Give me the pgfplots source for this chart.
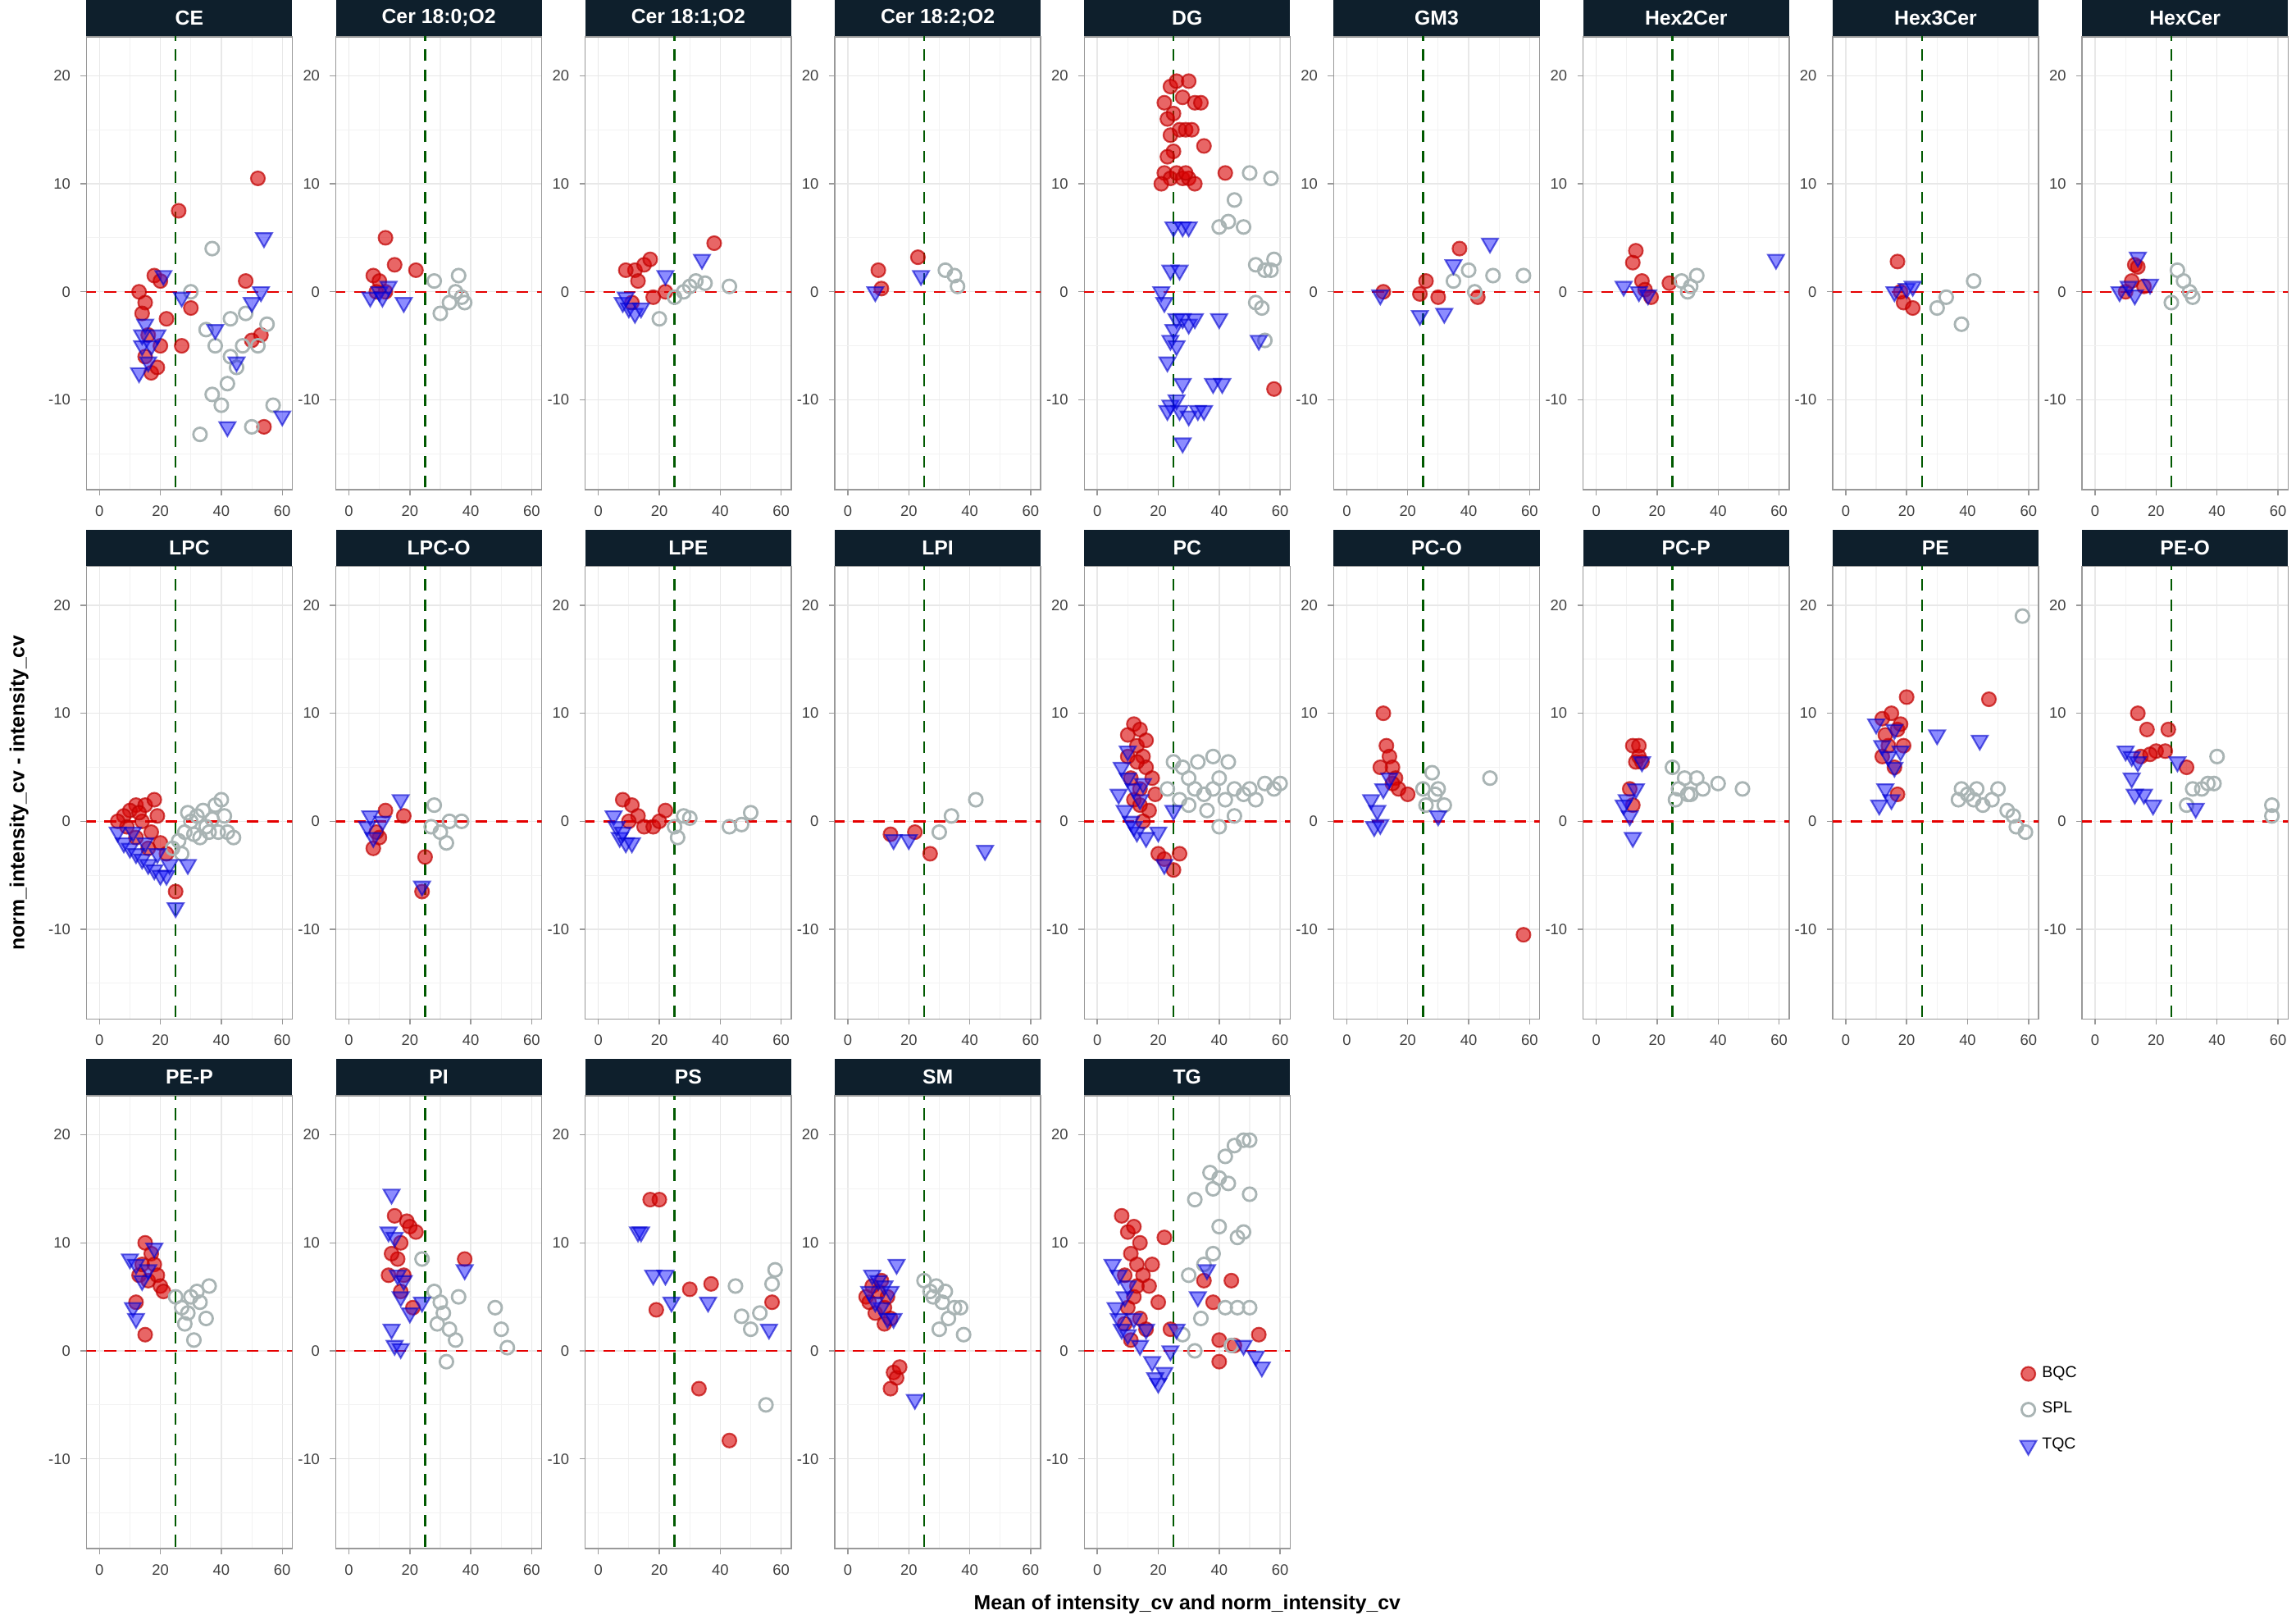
\documentclass[border=0pt]{standalone}
\usepackage{pgfplots}
\pgfplotsset{compat=1.18}
\usepgfplotslibrary{groupplots}
\usepackage{fontspec}
\setmainfont{Liberation Sans}
\definecolor{strip}{HTML}{0E1F2C}
\definecolor{splc}{HTML}{A9B4B4}
\pgfplotsset{
 every axis title shift=0pt,
 bqc/.style={only marks, mark=*, mark size=2.4pt, mark options={fill=red!85!black, draw=red!75!black, fill opacity=0.6, draw opacity=0.7, line width=0.6pt}},
 spl/.style={only marks, mark=o, mark size=2.3pt, mark options={draw=splc, line width=0.8pt}},
 tqc/.style={only marks, mark=triangle*, mark size=3.2pt, mark options={rotate=180, fill=blue!90!white, draw=blue!80!black, fill opacity=0.5, draw opacity=0.6, line width=0.6pt}},
 refh/.style={red!90!black, dashed, line width=0.7pt, forget plot, dash pattern=on 4pt off 3pt},
 refv/.style={green!35!black, dashed, line width=0.7pt, forget plot, dash pattern=on 4pt off 3pt},
}
\newcommand\panel[5][]{\nextgroupplot[title={#2},#1]
\addplot[bqc] coordinates {#3};
\addplot[spl] coordinates {#4};
\addplot[tqc] coordinates {#5};
\addplot[refh] coordinates {(-5,0)(65,0)};
\addplot[refv] coordinates {(25,-20)(25,25)};}
\begin{document}
\begin{tikzpicture}
\begin{groupplot}[group style={group size=9 by 3, horizontal sep=15pt, vertical sep=26.5pt},
 width=71pt, height=156pt, scale only axis,
 xmin=-4.3, xmax=63.3, ymin=-18.3, ymax=23.6,
 xtick={0,20,40,60}, minor xtick={10,30,50}, ytick={-10,0,10,20}, minor ytick={-15,-5,5,15},
 grid=both, major grid style={gray!18, line width=0.4pt}, minor grid style={gray!10, line width=0.3pt},
 axis line style={gray!80}, tick style={gray!80, line width=0.4pt}, major tick length=2pt, minor tick length=0pt,
 tick align=outside, tick pos=left,
 ticklabel style={font=\fontsize{5.2}{6}\selectfont, text=black!75}, /pgf/number format/assume math mode=true,
 title style={at={(0.5,1)}, anchor=south, fill=strip, text=white, font=\bfseries\fontsize{7}{8}\selectfont, minimum width=71pt, minimum height=12.5pt, inner sep=0pt, yshift=0pt},
 label style={font=\bfseries\fontsize{7}{8}\selectfont},
]
\panel{CE}{(26,7.5)(52,10.5)(54,-12.5)(15,-1)(18,1.5)(14,-2)(16,-4)(20,-5)(22,-2.5)(17,-7.5)(30,-1.5)(27,-5)(50,-4.5)(53,-4)(48,1)(15,-6)(19,-7)(13,0)(20,1)}{(37,4)(33,-13.2)(37,-9.5)(40,-10.5)(42,-8.5)(45,-7)(47,-5)(50,-12.5)(55,-3)(57,-10.5)(38,-5)(43,-6)(35,-3.5)(48,-2)(43,-2.5)(30,0)(52,-5)}{(54,5)(21,1.5)(15,-3)(14,-5)(13,-7.5)(17,-5)(19,-4)(38,-3.5)(42,-12.5)(45,-6.5)(50,-1)(53,0)(60,-11.5)(27,-0.5)(16,-6.5)(14,-4)}
\panel{Cer 18:0;O2}{(12,5)(15,2.5)(22,2)(8,1.5)(10,1)(9,0)(12,0)}{(28,1)(30,-2)(33,-1)(36,1.5)(37,-0.5)(38,-1)(35,0)}{(7,-0.5)(10,0)(13,0.5)(18,-1)(11,-0.5)}
\panel{Cer 18:1;O2}{(38,4.5)(12,2)(15,2.5)(17,3)(9,2)(18,-0.5)(22,0)(13,1)(11,-1)}{(43,0.5)(28,0)(30,0.5)(32,1)(35,0.8)(20,-2.5)(25,-0.5)}{(34,3)(22,1.5)(8,-1)(10,-1.5)(12,-2)(9,-0.5)(14,-1.5)}
\panel{Cer 18:2;O2}{(10,2)(11,0.3)(23,3.2)}{(32,2)(35,1.5)(36,0.5)}{(9,0)(24,1.5)}
\panel{DG}{(22,17.5)(24,19)(26,19.5)(28,18)(30,19.5)(32,17.5)(34,17.5)(23,16)(25,16.5)(27,15)(29,15)(31,15)(22,11)(24,10.5)(26,11)(28,10.5)(30,10.5)(32,10)(21,10)(25,13)(23,12.5)(35,13.5)(42,11)(58,-9)(29,11)(24,14.5)}{(50,11)(57,10.5)(45,8.5)(48,6)(52,2.5)(55,2)(57,2)(58,3)(52,-1)(54,-1.5)(55,-4.5)(40,6)(43,6.5)}{(25,6)(28,6)(30,6)(24,2)(27,2)(21,0)(22,-1)(26,-2.5)(28,-2.5)(30,-3)(32,-2.5)(25,-3.5)(24,-4.5)(26,-5)(23,-6.5)(28,-8.5)(38,-8.5)(41,-8.5)(24,-10.5)(27,-11)(30,-11.5)(33,-11)(28,-14)(35,-11)(40,-2.5)(53,-4.5)(23,-11)(26,-10)}
\panel{GM3}{(12,0)(24,-0.2)(26,1)(37,4)(43,-0.5)(30,-0.5)}{(35,1)(48,1.5)(58,1.5)(40,2)(42,0)}{(11,-0.3)(24,-2.2)(32,-2)(35,2.5)(47,4.5)}
\panel{Hex2Cer}{(13,3.8)(12,2.7)(15,1)(18,-0.5)(24,0.8)(16,0.2)}{(28,1)(31,0.5)(33,1.5)(30,0)}{(59,3)(9,0.5)(14,0)(17,-0.3)}
\panel{Hex3Cer}{(17,2.8)(19,-1)(22,-1.5)(18,0)}{(30,-1.5)(33,-0.5)(38,-3)(42,1)}{(16,0)(20,0.3)(22,0.5)}
\panel{HexCer}{(13,2.5)(14,2.3)(12,1)(16,0.5)(10,0)}{(27,2)(29,1)(31,0)(25,-1)(32,-0.5)}{(14,3.2)(8,0)(11,0.5)(18,0.7)(13,-0.3)}
\panel[ylabel={norm\_intensity\_cv - intensity\_cv}]{LPC}{(25,-6.5)(12,1.5)(15,1.5)(18,2)(10,1)(8,0.5)(14,0)(17,-1)(20,-2)(22,-3)(16,-2.5)(12,-1.5)(9,-0.5)(19,0.5)(6,0)(13,0.8)}{(28,-1)(30,0)(32,0.5)(34,1)(36,-1)(38,1.5)(40,2)(42,-1)(44,-1.5)(35,-0.5)(33,-1.5)(31,-1.2)(29,0.8)(26,-1.8)(37,0.2)(39,-1)(41,0.5)(24,-2.5)(27,-3)}{(8,-2)(10,-2.5)(12,-3)(14,-3.5)(16,-4)(18,-4.5)(20,-5)(22,-5)(25,-8)(29,-4)(6,-1)(11,-1)(15,-2)(19,-3)(23,-4)}
\panel{LPC-O}{(8,-2.5)(10,-1.5)(12,1)(18,0.5)(25,-3.3)(9,-1)(24,-6.5)}{(28,1.5)(30,-1)(32,-2)(33,0)(37,0)(27,-0.5)}{(17,2)(6,-0.5)(8,-1.5)(24,-6)(11,0)(7,0.5)}
\panel{LPE}{(8,2)(11,1.5)(13,0.5)(15,-0.5)(18,-0.5)(20,0)(22,1)(10,0)}{(25,-0.5)(28,0.5)(30,0.3)(43,-0.5)(47,-0.3)(50,0.8)(26,-1.5)}{(5,0.5)(7,-1.5)(9,-2)(11,-2)(6,-0.5)(8,-1)}
\panel{LPI}{(14,-1.2)(22,-1)(27,-3)}{(34,0.5)(42,2)(30,-1)}{(15,-1.7)(20,-1.7)(45,-2.7)}
\panel{PC}{(12,9)(14,8.5)(10,8)(13,7)(15,6)(16,5)(11,4)(14,3)(12,2)(17,1)(15,0)(20,-3)(22,-3.5)(25,-4.5)(27,-3)(13,5.5)(10,6)(18,4)(19,2.5)(16,7.5)(14,1.5)}{(25,5.5)(28,5)(30,4)(32,3)(35,2.5)(38,3)(40,4)(42,2)(45,3)(48,2.5)(50,3)(55,3.5)(58,3)(60,3.5)(27,2)(33,5.5)(38,6)(43,5.5)(36,1)(40,-0.5)(45,0.5)(30,1.5)(23,3)(52,2)}{(8,5)(10,4)(12,3)(14,2)(9,1)(11,0)(13,-1)(16,-1.5)(20,-1)(22,-4)(25,1)(10,6.5)(7,2.5)(12,-0.5)(15,3.5)}
\panel{PC-O}{(12,10)(13,7)(14,6)(15,5)(16,4)(17,3)(20,2.5)(58,-10.5)(11,5)(15,3.5)}{(25,3)(28,4.5)(30,3)(32,1.5)(47,4)(26,1.5)(29,2.5)}{(8,2)(10,1)(12,3)(9,-0.5)(11,-0.3)(30,0.5)(14,4)}
\panel{PC-P}{(12,7)(14,7)(13,5.5)(15,5.5)(11,3)(12,1.5)(14,6)}{(25,5)(27,3)(29,4)(31,2.5)(33,4)(35,3)(40,3.5)(48,3)(26,2)(30,2.5)}{(10,2)(11,0.5)(12,-1.5)(13,3)(15,5.5)(9,1.5)}
\panel{PE}{(12,9.5)(15,10)(17,8.5)(18,9)(20,11.5)(14,7)(16,5)(19,7)(47,11.3)(12,6)(17,2.5)(13,8)}{(58,19)(38,3)(40,2.5)(42,2)(45,1.5)(48,2)(50,3)(53,1)(56,-0.5)(59,-1)(43,3)(37,2)(55,0.5)}{(12,7)(14,6)(16,5)(13,3)(15,2)(11,1.5)(30,8)(44,7.5)(16,8.5)(18,6.5)(10,9)}
\panel{PE-O}{(14,10)(17,8.5)(20,6.5)(23,6.5)(24,8.5)(30,5)(15,6)(18,6.2)}{(40,6)(37,3.5)(39,3.5)(35,3)(58,1.5)(58,0.5)(30,1.5)(32,3)}{(10,6.5)(12,6)(14,5.5)(12,4)(13,2.5)(16,2.5)(19,1.5)(27,5.5)(33,1.2)}
\panel{PE-P}{(15,10)(17,9)(13,7)(16,6.5)(18,8)(19,7)(20,6)(21,5.5)(15,1.5)(12,4.5)(14,8)}{(25,5)(27,4)(29,3.5)(30,5)(32,5.5)(33,4.5)(35,3)(36,6)(31,1)(28,2.5)}{(10,8.5)(12,8)(14,6.5)(11,4)(12,3)(18,9.5)(16,7.5)}
\panel{PI}{(15,12.5)(17,10)(19,12)(20,11.5)(22,11)(16,8.5)(18,7)(14,9)(38,8.5)(21,4)(13,7)(17,5.5)}{(24,8.5)(28,5.5)(30,4.5)(31,3.5)(33,2)(35,1)(32,-1)(48,4)(50,2)(52,0.3)(36,5)(29,2.5)}{(14,14.5)(13,11)(15,10.5)(16,7)(17,5)(18,6.5)(24,4.5)(14,2)(15,0.5)(17,0.2)(38,7.5)(20,3.5)}
\panel{PS}{(17,14)(20,14)(19,3.8)(30,5.7)(37,6.2)(33,-3.5)(43,-8.3)(57,4.5)}{(45,6)(50,2)(53,3.5)(55,-5)(58,7.5)(57,6.2)(47,3.2)}{(13,11)(14,11)(18,7)(22,7)(24,4.5)(36,4.5)(56,2)}
\panel{SM}{(6,5)(8,6)(10,5.5)(12,4)(14,3)(9,3.5)(11,6.5)(13,5)(15,-2)(16,-2.5)(14,-3.5)(17,-1.5)(7,4.5)(12,2.5)}{(25,6.5)(27,5.5)(29,6)(31,4.5)(33,3)(35,4)(37,4)(38,1.5)(30,2)(28,5)(32,5.5)}{(8,7)(10,6.5)(12,6)(14,5.5)(16,8)(11,4)(13,3)(15,3)(9,4.5)(22,-4.5)(7,5.5)}
\panel[xlabel={Mean of intensity\_cv and norm\_intensity\_cv}, legend style={at={(4.5,0.43)}, anchor=north west, draw=none, fill=none, font=\fontsize{5.5}{6}\selectfont, row sep=3pt}, legend cell align=left]{TG}{(8,12.5)(10,11)(12,11.5)(14,10)(11,9)(13,8)(9,7)(15,7)(17,6)(12,5)(10,4)(14,3)(16,2)(20,4.5)(22,10.5)(18,8)(24,2)(35,6.5)(44,6.5)(38,4.5)(40,1)(40,-1)(45,0.5)(53,1.5)(11,1)(9,2.5)(13,6)}{(32,14)(37,16.5)(40,16)(42,18)(45,19)(48,19.5)(50,19.5)(38,15)(43,15.5)(50,14.5)(48,11)(40,11.5)(46,10.5)(35,8)(30,7)(38,9)(42,4)(46,4)(50,4)(34,3)(28,1.5)(32,0)(44,0.5)}{(5,8)(7,7)(9,5)(6,4)(8,2)(10,1.5)(12,3)(14,0.5)(16,2)(18,-1)(20,-3)(22,-2)(24,0)(26,2)(36,7.5)(33,5)(48,0.5)(52,-0.5)(54,-1.5)(19,-2.5)(7,3)(10,6)}
\legend{BQC,SPL,TQC}
\end{groupplot}
\end{tikzpicture}
\end{document}
